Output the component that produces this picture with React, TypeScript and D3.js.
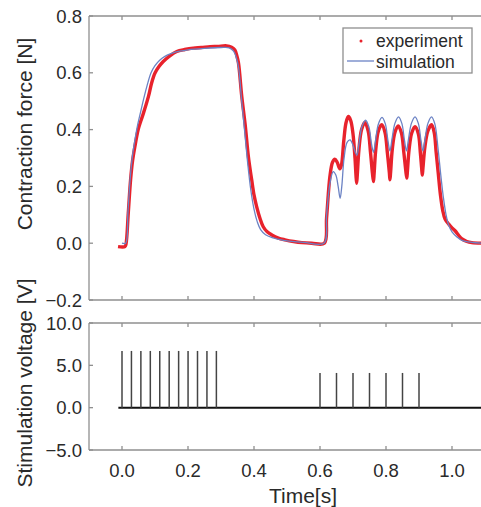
import React, { useEffect, useRef } from "react";
import * as d3 from "d3";

// measured force (experiment) [time s, force N]
const experiment: [number, number][] = [
  [-0.012, -0.012], [0.009, -0.012], [0.012, -0.004], [0.019, 0.106], [0.026, 0.223],
  [0.032, 0.29], [0.039, 0.34], [0.049, 0.4], [0.057, 0.43], [0.065, 0.458],
  [0.08, 0.516], [0.09, 0.565], [0.1, 0.599], [0.112, 0.622], [0.125, 0.64],
  [0.145, 0.66], [0.166, 0.675], [0.19, 0.682], [0.216, 0.687], [0.24, 0.689],
  [0.267, 0.692], [0.29, 0.693], [0.317, 0.695], [0.332, 0.69], [0.342, 0.68],
  [0.348, 0.66], [0.353, 0.634], [0.363, 0.516], [0.373, 0.42], [0.383, 0.305],
  [0.393, 0.223], [0.4, 0.17], [0.408, 0.129], [0.418, 0.088], [0.428, 0.058],
  [0.44, 0.04], [0.454, 0.029], [0.474, 0.018], [0.494, 0.012], [0.52, 0.006],
  [0.545, 0.002], [0.575, 0.0], [0.613, 0.0], [0.62, 0.09], [0.63, 0.235],
  [0.638, 0.285], [0.645, 0.296], [0.652, 0.285], [0.66, 0.262], [0.665, 0.275],
  [0.672, 0.36], [0.679, 0.425], [0.686, 0.446], [0.693, 0.432], [0.7, 0.385],
  [0.706, 0.3], [0.709, 0.24], [0.711, 0.211], [0.713, 0.24], [0.718, 0.33],
  [0.726, 0.4], [0.736, 0.425], [0.746, 0.395], [0.753, 0.32], [0.759, 0.245],
  [0.762, 0.217], [0.764, 0.245], [0.769, 0.33], [0.777, 0.395], [0.787, 0.417],
  [0.797, 0.39], [0.804, 0.32], [0.81, 0.25], [0.812, 0.223], [0.814, 0.25],
  [0.819, 0.33], [0.827, 0.39], [0.837, 0.413], [0.847, 0.387], [0.854, 0.32],
  [0.86, 0.255], [0.863, 0.229], [0.865, 0.255], [0.87, 0.33], [0.878, 0.388],
  [0.888, 0.41], [0.898, 0.385], [0.904, 0.32], [0.908, 0.265], [0.91, 0.24],
  [0.912, 0.265], [0.918, 0.34], [0.927, 0.395], [0.938, 0.417], [0.946, 0.39],
  [0.952, 0.32], [0.958, 0.25], [0.965, 0.17], [0.972, 0.115], [0.979, 0.085],
  [0.99, 0.067], [1.0, 0.054], [1.01, 0.043], [1.02, 0.028], [1.029, 0.016],
  [1.045, 0.006], [1.06, 0.002], [1.1, 0.0],
];

// model output (simulation) [time s, force N]
const simulation: [number, number][] = [
  [0.0, 0.0], [0.011, 0.0], [0.018, 0.11], [0.025, 0.23], [0.032, 0.31],
  [0.04, 0.37], [0.048, 0.42], [0.057, 0.465], [0.066, 0.51], [0.076, 0.555],
  [0.088, 0.6], [0.1, 0.625], [0.115, 0.645], [0.13, 0.658], [0.15, 0.668],
  [0.175, 0.676], [0.2, 0.681], [0.25, 0.686], [0.3, 0.689], [0.325, 0.688],
  [0.338, 0.676], [0.346, 0.655], [0.353, 0.62], [0.362, 0.51], [0.372, 0.39],
  [0.381, 0.28], [0.39, 0.19], [0.4, 0.12], [0.41, 0.075], [0.42, 0.048],
  [0.435, 0.03], [0.455, 0.02], [0.49, 0.01], [0.55, 0.003], [0.612, 0.0],
  [0.62, 0.1], [0.63, 0.21], [0.64, 0.252], [0.648, 0.24], [0.655, 0.2],
  [0.661, 0.158], [0.666, 0.2], [0.673, 0.3], [0.682, 0.355], [0.691, 0.364],
  [0.7, 0.345], [0.707, 0.32], [0.712, 0.31], [0.718, 0.35], [0.727, 0.41],
  [0.738, 0.433], [0.748, 0.41], [0.756, 0.35], [0.762, 0.32], [0.768, 0.36],
  [0.777, 0.42], [0.788, 0.443], [0.798, 0.42], [0.806, 0.36], [0.812, 0.325],
  [0.818, 0.365], [0.827, 0.422], [0.838, 0.445], [0.848, 0.422], [0.856, 0.362],
  [0.862, 0.325], [0.868, 0.365], [0.877, 0.422], [0.888, 0.445], [0.898, 0.422],
  [0.906, 0.362], [0.912, 0.325], [0.918, 0.365], [0.927, 0.422], [0.938, 0.445],
  [0.948, 0.42], [0.958, 0.33], [0.966, 0.24], [0.974, 0.16], [0.982, 0.1],
  [0.99, 0.063], [1.0, 0.04], [1.015, 0.022], [1.03, 0.01], [1.06, 0.003],
  [1.1, 0.0],
];

// stimulation pulses
const pulseTimesA = [0.0, 0.0286, 0.0572, 0.0858, 0.1144, 0.143, 0.1716, 0.2002, 0.2288, 0.2574, 0.286];
const pulseAmpA = 6.7;
const pulseTimesB = [0.6, 0.65, 0.7, 0.75, 0.8, 0.85, 0.9];
const pulseAmpB = 4.1;

const timeTicks = [0.0, 0.2, 0.4, 0.6, 0.8, 1.0];
const forceTicks = [-0.2, 0.0, 0.2, 0.4, 0.6, 0.8];
const voltTicks = [-5.0, 0.0, 5.0, 10.0];

const legendItems = ["experiment", "simulation"];

function App() {
  const ref = useRef<SVGSVGElement>(null);

  useEffect(() => {
    document.body.style.margin = "0";
    drawChart();
  }, []);

  function drawChart() {
    const svg = d3.select(ref.current);
    svg.selectAll("*").remove();

    const left = 89;
    const font = "'Liberation Sans', Arial, sans-serif";
    const frameColor = "#8f8f8f";
    const textColor = "#2a2a2a";

    const x = d3.scaleLinear().domain([-0.1, 1.1]).range([left, 485]);
    const yF = d3.scaleLinear().domain([-0.2, 0.8]).range([300, 16]);
    const yV = d3.scaleLinear().domain([-5, 10]).range([450, 323]);

    function panel(y: d3.ScaleLinear<number, number>, ticks: number[], fmt: (d: number) => string) {
      const [bottom, top] = y.range();
      const g = svg.append("g");
      g.append("line").attr("x1", left).attr("x2", 481).attr("y1", top).attr("y2", top);
      g.append("line").attr("x1", left).attr("x2", 481).attr("y1", bottom).attr("y2", bottom);
      g.append("line").attr("x1", left).attr("x2", left).attr("y1", top).attr("y2", bottom);
      timeTicks.forEach((t) => {
        g.append("line").attr("x1", x(t)).attr("x2", x(t)).attr("y1", top).attr("y2", top + 4);
        g.append("line").attr("x1", x(t)).attr("x2", x(t)).attr("y1", bottom).attr("y2", bottom - 4);
      });
      ticks.forEach((v) => {
        g.append("line").attr("x1", left).attr("x2", left + 4).attr("y1", y(v)).attr("y2", y(v));
      });
      g.selectAll("line").attr("stroke", frameColor).attr("stroke-width", 1.3);
      svg.append("g")
        .selectAll("text")
        .data(ticks)
        .enter()
        .append("text")
        .attr("x", 82)
        .attr("y", (d) => y(d))
        .attr("dy", "0.36em")
        .attr("text-anchor", "end")
        .style("font-family", font)
        .style("font-size", "18.5px")
        .style("fill", textColor)
        .text((d) => fmt(d));
    }

    panel(yF, forceTicks, (d) => d.toFixed(1).replace("-", "\u2212"));
    panel(yV, voltTicks, (d) => d.toFixed(1).replace("-", "\u2212"));

    // force curves
    const lineF = d3
      .line<[number, number]>()
      .x((d) => x(d[0]))
      .y((d) => yF(d[1]))
      .curve(d3.curveCatmullRom.alpha(0.5));

    svg.append("path")
      .attr("d", lineF(experiment))
      .attr("fill", "none")
      .attr("stroke", "#e8222c")
      .attr("stroke-width", 3.4)
      .attr("stroke-linejoin", "round");

    svg.append("path")
      .attr("d", lineF(simulation))
      .attr("fill", "none")
      .attr("stroke", "#6b82c4")
      .attr("stroke-width", 1.3);

    // stimulation voltage
    svg.append("line")
      .attr("x1", x(-0.011))
      .attr("x2", 481)
      .attr("y1", yV(0))
      .attr("y2", yV(0))
      .attr("stroke", "#111")
      .attr("stroke-width", 2);

    const pulses = pulseTimesA.map((t) => ({ t, a: pulseAmpA })).concat(pulseTimesB.map((t) => ({ t, a: pulseAmpB })));
    svg.append("g")
      .selectAll("line")
      .data(pulses)
      .enter()
      .append("line")
      .attr("x1", (d) => x(d.t))
      .attr("x2", (d) => x(d.t))
      .attr("y1", yV(0))
      .attr("y2", (d) => yV(d.a))
      .attr("stroke", "#444")
      .attr("stroke-width", 1.5);

    // x tick labels
    svg.append("g")
      .selectAll("text")
      .data(timeTicks)
      .enter()
      .append("text")
      .attr("x", (d) => x(d))
      .attr("y", 477)
      .attr("text-anchor", "middle")
      .style("font-family", font)
      .style("font-size", "18.5px")
      .style("fill", textColor)
      .text((d) => d.toFixed(1));

    // axis titles
    svg.append("text")
      .attr("x", 303)
      .attr("y", 503)
      .attr("text-anchor", "middle")
      .style("font-family", font)
      .style("font-size", "21px")
      .style("fill", textColor)
      .text("Time[s]");

    svg.append("text")
      .attr("transform", "translate(32,134) rotate(-90)")
      .attr("text-anchor", "middle")
      .style("font-family", font)
      .style("font-size", "21px")
      .style("fill", textColor)
      .text("Contraction force [N]");

    svg.append("text")
      .attr("transform", "translate(32,383) rotate(-90)")
      .attr("text-anchor", "middle")
      .style("font-family", font)
      .style("font-size", "21px")
      .style("fill", textColor)
      .text("Stimulation voltage [V]");

    // legend
    const lg = svg.append("g");
    lg.append("rect")
      .attr("x", 343)
      .attr("y", 28)
      .attr("width", 129)
      .attr("height", 45)
      .attr("fill", "#fff")
      .attr("stroke", frameColor)
      .attr("stroke-width", 1.3);
    lg.append("circle").attr("cx", 361).attr("cy", 41).attr("r", 1.5).attr("fill", "#e8222c");
    lg.append("line")
      .attr("x1", 347)
      .attr("x2", 374)
      .attr("y1", 61)
      .attr("y2", 61)
      .attr("stroke", "#6b82c4")
      .attr("stroke-width", 1.3);
    lg.selectAll("text")
      .data(legendItems)
      .enter()
      .append("text")
      .attr("x", 376)
      .attr("y", (d, i) => 47 + i * 21)
      .style("font-family", font)
      .style("font-size", "17.5px")
      .style("fill", textColor)
      .text((d) => d);
  }

  return (
    <div>
      <svg ref={ref} width={481} height={507} style={{ display: "block", background: "#fff" }} />
    </div>
  );
}

export default App;
